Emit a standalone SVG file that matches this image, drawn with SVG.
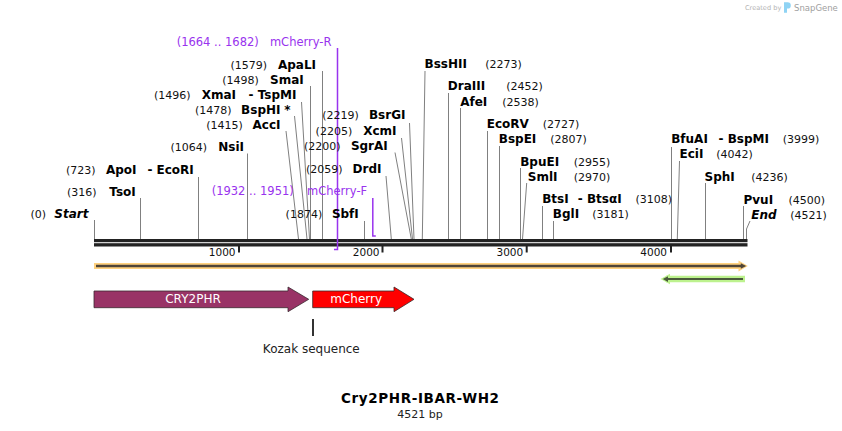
<svg xmlns="http://www.w3.org/2000/svg" width="842" height="431" viewBox="0 0 842 431">
<style>
text{font-family:"DejaVu Sans","Liberation Sans",sans-serif}
.n{font-size:11px;fill:#111}
.e{font-size:12px;font-weight:bold;fill:#000}
.en{text-anchor:end}
.p{font-size:11.5px;fill:#9933ee}
.l{stroke:#808080;stroke-width:1;fill:none}
.pl{stroke:#9933ee;stroke-width:1.5;fill:none}
.tk{font-size:10.5px;fill:#111;text-anchor:end}
.ft{font-size:12px;fill:#fff;text-anchor:middle}
</style>
<rect width="842" height="431" fill="#fff"/>

<g id="credit">
<text x="745" y="10" font-size="6.6" fill="#b4b4b4">Created by</text>
<path d="M784 2.2h3.6a3.2 3.2 0 0 1 0 6.4h-0.6v4.2h-3z" fill="#8fd3f4"/>
<text x="794" y="10.5" font-size="8.5" fill="#a0a0a0">SnapGene</text>
</g>

<g id="connectors">
<path class="l" d="M94.5 220V239"/>
<path class="l" d="M140.5 198V239"/>
<path class="l" d="M198.5 177V239"/>
<path class="l" d="M247.5 153.5V239"/>
<path class="l" d="M286 131L298.5 239"/>
<path class="l" d="M294.5 116L307 239"/>
<path class="l" d="M301.5 102L309.5 239"/>
<path class="l" d="M310.5 86V239"/>
<path class="l" d="M322.5 71V239"/>
<path class="l" d="M409.5 123L414 239"/>
<path class="l" d="M401.5 138L412.5 239"/>
<path class="l" d="M395 152.5L411.3 239"/>
<path class="l" d="M386 176L391.3 239"/>
<path class="l" d="M364.5 221V239"/>
<path class="l" d="M425 71L422.3 239"/>
<path class="l" d="M448.5 93V239"/>
<path class="l" d="M460.5 108V239"/>
<path class="l" d="M487.5 131V239"/>
<path class="l" d="M499.5 146V239"/>
<path class="l" d="M520.5 168V239"/>
<path class="l" d="M526.7 183L522.5 239"/>
<path class="l" d="M542.5 206V239"/>
<path class="l" d="M553.5 221V239"/>
<path class="l" d="M671.5 147V239"/>
<path class="l" d="M679.5 161L677.3 239"/>
<path class="l" d="M705.5 183V239"/>
<path class="l" d="M743.5 206V239"/>
<path class="l" d="M750 221L746.5 229V239"/>
</g>

<g id="backbone">
<rect x="94" y="239" width="653.5" height="3.2" fill="#222"/>
<rect x="94" y="243.2" width="653.5" height="3.3" fill="#222"/>
<rect x="238" y="246" width="2" height="6.5" fill="#222"/>
<rect x="381.5" y="246" width="2" height="6.5" fill="#222"/>
<rect x="525.7" y="246" width="2" height="6.5" fill="#222"/>
<rect x="670" y="246" width="2" height="6.5" fill="#222"/>
<text class="tk" x="235.5" y="255.7">1000</text>
<text class="tk" x="379.5" y="255.7">2000</text>
<text class="tk" x="523.2" y="255.7">3000</text>
<text class="tk" x="667" y="255.7">4000</text>
</g>

<g id="primers">
<path class="pl" d="M337.5 48V249.5H334"/>
<path class="pl" d="M372.8 198V236H375.8"/>
<text class="p en" x="258.8" y="46">(1664 .. 1682)</text>
<text class="p en" x="331.5" y="46">mCherry-R</text>
<text class="p en" x="293.8" y="195">(1932 .. 1951)</text>
<text class="p en" x="367.2" y="195">mCherry-F</text>
</g>

<g id="sites-left">
<text class="n en" x="46" y="218">(0)</text>
<text class="e en" x="88.5" y="218" font-style="italic">Start</text>
<text class="n en" x="96.5" y="196">(316)</text>
<text class="e en" x="135.8" y="196">TsoI</text>
<text class="n en" x="95.5" y="174">(723)</text>
<text class="e en" x="136.5" y="174">ApoI</text>
<text class="e en" x="193.8" y="174">- EcoRI</text>
<text class="n en" x="207" y="151">(1064)</text>
<text class="e en" x="244" y="151">NsiI</text>
<text class="n en" x="242.8" y="128.5">(1415)</text>
<text class="e en" x="280.5" y="128.5">AccI</text>
<text class="n en" x="231.5" y="113.5">(1478)</text>
<text class="e en" x="280.5" y="113.5">BspHI</text>
<text class="e en" x="290.5" y="113.5">*</text>
<text class="n en" x="190.5" y="99">(1496)</text>
<text class="e en" x="236" y="99">XmaI</text>
<text class="e en" x="296.5" y="99">- TspMI</text>
<text class="n en" x="258.8" y="83.5">(1498)</text>
<text class="e en" x="303.8" y="83.5">SmaI</text>
<text class="n en" x="267" y="68.5">(1579)</text>
<text class="e en" x="316" y="68.5">ApaLI</text>
<text class="n en" x="358.8" y="118.5">(2219)</text>
<text class="e en" x="405.5" y="118.5">BsrGI</text>
<text class="n en" x="352.2" y="135">(2205)</text>
<text class="e en" x="396.5" y="135">XcmI</text>
<text class="n en" x="340.5" y="150">(2200)</text>
<text class="e en" x="387.8" y="150">SgrAI</text>
<text class="n en" x="342.5" y="172.7">(2059)</text>
<text class="e en" x="381.5" y="172.7">DrdI</text>
<text class="n en" x="322.2" y="218.3">(1874)</text>
<text class="e en" x="358.8" y="218.3">SbfI</text>
</g>

<g id="sites-right">
<text class="e" x="424.5" y="68.3">BssHII</text>
<text class="n" x="485.2" y="68.3">(2273)</text>
<text class="e" x="447.8" y="90">DraIII</text>
<text class="n" x="506.2" y="90">(2452)</text>
<text class="e" x="460.2" y="105.7">AfeI</text>
<text class="n" x="502.2" y="105.7">(2538)</text>
<text class="e" x="486.8" y="128.3">EcoRV</text>
<text class="n" x="542.8" y="128.3">(2727)</text>
<text class="e" x="498.8" y="143.3">BspEI</text>
<text class="n" x="550.2" y="143.3">(2807)</text>
<text class="e" x="520.2" y="165.7">BpuEI</text>
<text class="n" x="573.8" y="165.7">(2955)</text>
<text class="e" x="527.8" y="180.7">SmlI</text>
<text class="n" x="573.8" y="180.7">(2970)</text>
<text class="e" x="542.2" y="203.3">BtsI</text>
<text class="e" x="577.8" y="203.3">- BtsαI</text>
<text class="n" x="635.5" y="203.3">(3108)</text>
<text class="e" x="552.8" y="218.3">BglI</text>
<text class="n" x="592.2" y="218.3">(3181)</text>
<text class="e" x="671.2" y="143.3">BfuAI</text>
<text class="e" x="718.5" y="143.3">- BspMI</text>
<text class="n" x="782.8" y="143.3">(3999)</text>
<text class="e" x="679.5" y="158.3">EciI</text>
<text class="n" x="716.2" y="158.3">(4042)</text>
<text class="e" x="704.5" y="181">SphI</text>
<text class="n" x="751.2" y="181">(4236)</text>
<text class="e" x="743.5" y="204">PvuI</text>
<text class="n" x="788.5" y="204">(4500)</text>
<text class="e" x="751.2" y="219.3" font-style="italic">End</text>
<text class="n" x="790.2" y="219.3">(4521)</text>
</g>

<g id="feature-orange">
<path d="M94 266H741" stroke="#ffd280" stroke-width="6.2"/>
<polygon points="738.5,260.5 747.8,266 738.5,271.5" fill="#ffd280"/>
<path d="M96 266H742" stroke="#4f4538" stroke-width="2.4"/>
<polygon points="740.8,263.2 746.2,266 740.8,268.8" fill="#4f4538"/>
</g>

<g id="feature-green">
<path d="M666 279H745" stroke="#bdf28e" stroke-width="6.4"/>
<polygon points="670,273.8 660.5,279 670,284.2" fill="#bdf28e"/>
<path d="M666 279.1H743" stroke="#4b5a3c" stroke-width="2"/>
<polygon points="668,276.2 662.8,279.1 668,282" fill="#4b5a3c"/>
</g>

<g id="CRY2PHR">
<polygon points="94,291 288,291 288,287 308.7,299.3 288,311.7 288,307.7 94,307.7" fill="#993366" stroke="#3a2a30" stroke-width="0.8"/>
<text class="ft" x="193" y="303.3">CRY2PHR</text>
</g>

<g id="mCherry">
<polygon points="312.7,291 394,291 394,287 414,299.3 394,311.7 394,307.7 312.7,307.7" fill="#ff0000" stroke="#3a2a2a" stroke-width="0.8"/>
<text class="ft" x="356.2" y="303.3">mCherry</text>
</g>

<g id="Kozak">
<path d="M313 319V336" stroke="#333" stroke-width="2"/>
<text x="311.3" y="353.3" font-size="12" fill="#222" text-anchor="middle">Kozak sequence</text>
</g>

<g id="title">
<text x="420" y="403.3" font-size="13.5" font-weight="bold" fill="#000" text-anchor="middle" textLength="158" lengthAdjust="spacing">Cry2PHR-IBAR-WH2</text>
<text x="420" y="417.5" font-size="11" fill="#222" text-anchor="middle">4521 bp</text>
</g>
</svg>
